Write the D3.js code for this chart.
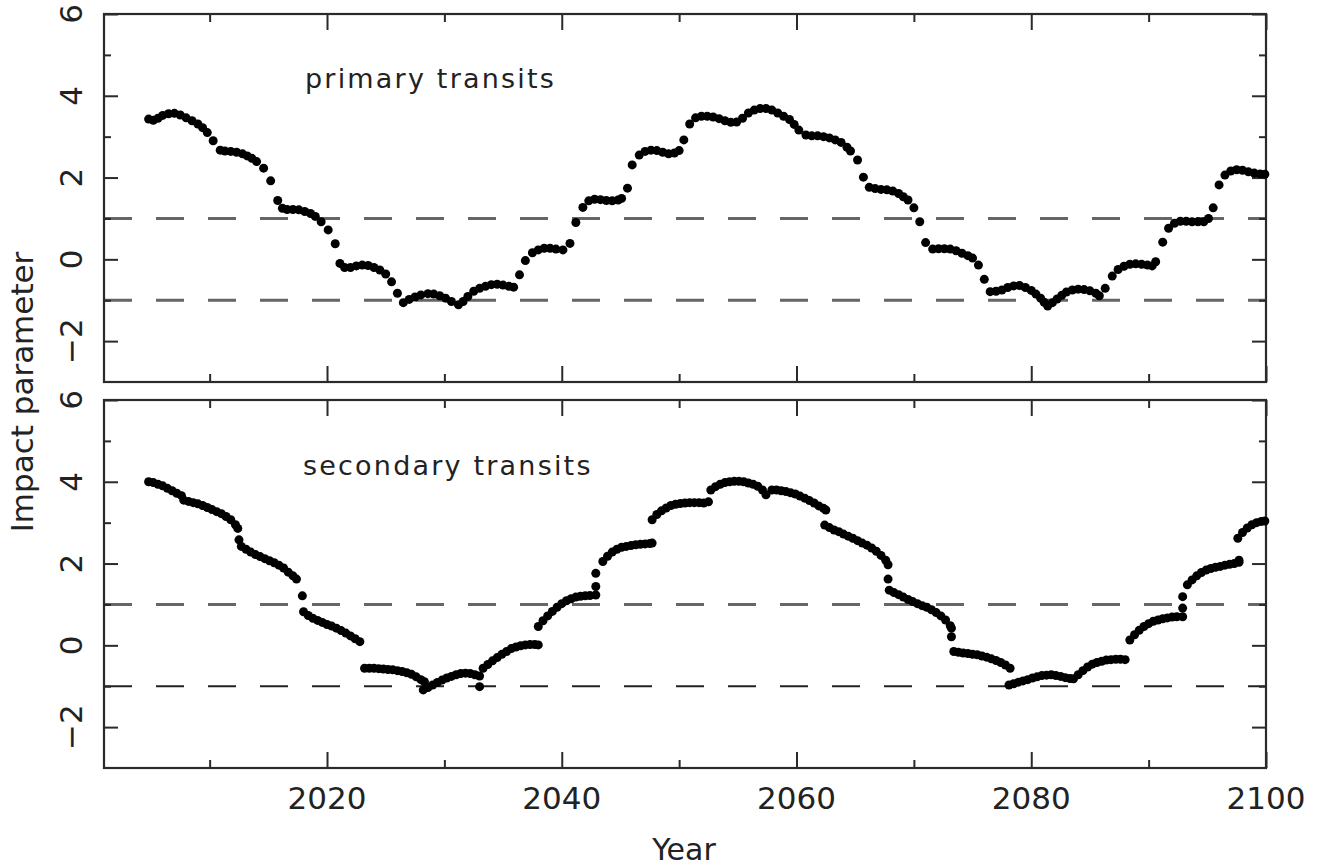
<!DOCTYPE html>
<html>
<head>
<meta charset="utf-8">
<script src="https://cdn.jsdelivr.net/npm/d3@7"></script>
<style>
  html, body { margin: 0; padding: 0; background: #fff; }
  svg { display: block; }
  text { font-family: "DejaVu Sans", sans-serif; fill: #222; }
</style>
</head>
<body>
<svg id="chart" width="1320" height="867"></svg>
<script>
// ---------------- data ----------------
const xMajorTicks = [2020, 2040, 2060, 2080, 2100];
const xMinorTicks = [2010, 2030, 2050, 2070, 2090];
const yMajorTicks = [-2, 0, 2, 4, 6];
const yMinorTicks = [-1, 1, 3, 5];
const yTickLabels = [-2, 0, 2, 4, 6];
const limitLines = [1, -1];
const panelLabels = ["primary transits", "secondary transits"];
const xLabel = "Year";
const yLabel = "Impact parameter";

// primary transits: [year, impact parameter]
const primary = [
  [2004.8,3.43],[2005.2,3.40],[2005.6,3.45],[2006.0,3.52],[2006.5,3.56],[2007.0,3.57],[2007.5,3.53],
  [2008.0,3.46],[2008.5,3.39],[2009.0,3.31],[2009.4,3.22],[2009.8,3.10],[2010.3,2.90],
  [2010.9,2.67],[2011.3,2.65],[2011.8,2.64],[2012.3,2.62],[2012.8,2.58],[2013.2,2.53],[2013.6,2.47],
  [2014.0,2.39],[2014.6,2.23],[2015.2,1.92],[2015.8,1.44],
  [2016.2,1.25],[2016.6,1.22],[2017.1,1.22],[2017.6,1.21],[2018.1,1.17],[2018.6,1.12],[2019.0,1.05],
  [2019.5,0.92],[2020.1,0.72],[2020.7,0.38],
  [2021.1,-0.10],[2021.5,-0.20],[2022.0,-0.20],[2022.5,-0.16],[2023.0,-0.14],[2023.5,-0.15],[2024.0,-0.20],
  [2024.5,-0.26],[2025.0,-0.36],[2025.5,-0.55],[2026.0,-0.83],
  [2026.5,-1.06],[2027.0,-0.98],[2027.5,-0.92],[2028.0,-0.87],[2028.6,-0.84],[2029.1,-0.85],[2029.6,-0.89],
  [2030.1,-0.95],[2030.6,-1.03],[2031.2,-1.11],[2031.6,-1.03],[2032.0,-0.91],[2032.5,-0.78],[2033.0,-0.71],
  [2033.5,-0.66],[2034.0,-0.62],[2034.5,-0.61],[2035.0,-0.63],[2035.5,-0.66],[2035.9,-0.68],
  [2036.4,-0.38],[2036.9,-0.03],
  [2037.5,0.16],[2038.0,0.23],[2038.5,0.27],[2039.0,0.27],[2039.5,0.25],[2040.1,0.23],[2040.7,0.39],[2041.2,0.90],
  [2041.8,1.27],[2042.3,1.43],[2042.8,1.47],[2043.3,1.46],[2043.8,1.44],[2044.3,1.43],[2044.8,1.45],
  [2045.1,1.49],[2045.6,1.74],[2046.0,2.31],
  [2046.6,2.55],[2047.1,2.64],[2047.6,2.67],[2048.1,2.66],[2048.6,2.62],[2049.1,2.58],[2049.6,2.60],
  [2050.0,2.66],[2050.4,2.92],[2050.9,3.31],
  [2051.4,3.46],[2051.9,3.50],[2052.4,3.50],[2052.9,3.48],[2053.4,3.44],[2053.9,3.39],[2054.4,3.35],
  [2054.9,3.36],[2055.4,3.45],[2055.9,3.58],[2056.4,3.65],[2056.9,3.69],[2057.4,3.69],[2057.9,3.65],
  [2058.4,3.58],[2058.9,3.50],[2059.4,3.42],[2059.8,3.30],[2060.2,3.16],[2060.8,3.04],
  [2061.3,3.02],[2061.8,3.02],[2062.3,3.00],[2062.8,2.97],[2063.3,2.92],[2063.8,2.86],[2064.3,2.74],
  [2064.6,2.65],[2065.2,2.43],[2065.7,2.01],
  [2066.2,1.76],[2066.7,1.73],[2067.2,1.71],[2067.7,1.70],[2068.2,1.67],[2068.7,1.61],[2069.1,1.53],
  [2069.5,1.45],[2070.0,1.26],[2070.5,0.92],[2071.0,0.41],
  [2071.6,0.25],[2072.1,0.26],[2072.6,0.26],[2073.1,0.25],[2073.6,0.21],[2074.1,0.15],[2074.6,0.09],
  [2075.0,0.03],[2075.5,-0.14],[2076.0,-0.49],
  [2076.5,-0.79],[2077.0,-0.78],[2077.5,-0.75],[2078.0,-0.69],[2078.5,-0.65],[2079.0,-0.64],[2079.5,-0.69],
  [2080.0,-0.76],[2080.4,-0.85],[2080.8,-0.95],[2081.1,-1.05],[2081.4,-1.14],[2081.8,-1.06],[2082.2,-0.97],
  [2082.6,-0.88],[2083.0,-0.80],[2083.5,-0.75],[2084.0,-0.73],[2084.5,-0.74],[2085.0,-0.77],[2085.5,-0.83],
  [2085.8,-0.89],[2086.3,-0.71],[2086.9,-0.41],
  [2087.4,-0.25],[2087.9,-0.17],[2088.4,-0.12],[2088.9,-0.11],[2089.4,-0.12],[2089.9,-0.14],[2090.3,-0.16],
  [2090.6,-0.06],[2091.2,0.42],[2091.7,0.76],
  [2092.2,0.88],[2092.7,0.93],[2093.2,0.93],[2093.7,0.92],[2094.2,0.92],[2094.7,0.92],[2095.1,1.00],
  [2095.5,1.26],[2096.0,1.82],
  [2096.5,2.06],[2097.0,2.16],[2097.5,2.19],[2098.0,2.18],[2098.5,2.14],[2099.0,2.11],[2099.5,2.09],[2099.9,2.08]
];

// secondary transits: [year, impact parameter]
const secondary = [
  [2004.8,4.00],[2005.2,3.98],[2005.6,3.94],[2006.0,3.90],[2006.4,3.84],[2006.8,3.78],[2007.2,3.72],[2007.6,3.66],
  [2007.8,3.55],[2008.2,3.52],[2008.6,3.49],[2009.0,3.46],[2009.4,3.42],[2009.8,3.37],[2010.2,3.32],[2010.6,3.27],
  [2011.0,3.22],[2011.4,3.15],[2011.8,3.07],[2012.2,2.95],[2012.4,2.86],
  [2012.5,2.58],[2012.7,2.42],[2013.1,2.35],[2013.5,2.28],[2013.9,2.22],[2014.3,2.17],[2014.7,2.12],[2015.1,2.07],
  [2015.5,2.02],[2015.9,1.96],[2016.3,1.89],[2016.7,1.79],[2017.1,1.70],[2017.4,1.62],[2017.9,1.21],
  [2018.0,0.82],[2018.4,0.73],[2018.8,0.66],[2019.2,0.61],[2019.6,0.56],[2020.0,0.51],[2020.4,0.47],[2020.8,0.42],
  [2021.2,0.36],[2021.6,0.30],[2022.0,0.23],[2022.4,0.16],[2022.8,0.09],
  [2023.2,-0.56],[2023.6,-0.56],[2024.0,-0.56],[2024.4,-0.57],[2024.8,-0.58],[2025.2,-0.59],[2025.6,-0.60],
  [2026.0,-0.62],[2026.4,-0.64],[2026.8,-0.67],[2027.2,-0.71],[2027.6,-0.77],[2028.0,-0.84],[2028.3,-0.89],
  [2028.2,-1.09],[2028.6,-1.03],[2029.0,-0.97],[2029.4,-0.91],[2029.8,-0.85],[2030.2,-0.80],[2030.6,-0.76],
  [2031.0,-0.72],[2031.4,-0.69],[2031.8,-0.68],[2032.2,-0.69],[2032.6,-0.72],[2033.0,-0.75],[2033.0,-1.01],
  [2033.3,-0.56],[2033.7,-0.47],[2034.1,-0.38],[2034.5,-0.30],[2034.9,-0.22],[2035.3,-0.15],[2035.7,-0.08],
  [2036.1,-0.04],[2036.5,-0.01],[2036.9,0.01],[2037.3,0.02],[2037.7,0.02],[2038.0,0.01],
  [2038.0,0.46],[2038.4,0.60],[2038.8,0.72],[2039.2,0.83],[2039.6,0.93],[2040.0,1.02],[2040.4,1.09],[2040.8,1.14],
  [2041.2,1.18],[2041.6,1.20],[2042.0,1.21],[2042.4,1.22],[2042.9,1.23],[2042.9,1.44],[2042.9,1.76],
  [2043.5,2.05],[2043.9,2.18],[2044.3,2.28],[2044.7,2.35],[2045.1,2.40],[2045.5,2.42],[2045.9,2.44],[2046.3,2.46],
  [2046.7,2.47],[2047.1,2.48],[2047.5,2.49],[2047.7,2.50],
  [2047.7,3.07],[2048.1,3.20],[2048.5,3.29],[2048.9,3.36],[2049.3,3.42],[2049.7,3.45],[2050.1,3.47],[2050.5,3.48],
  [2050.9,3.49],[2051.3,3.49],[2051.7,3.49],[2052.1,3.48],[2052.5,3.51],
  [2052.7,3.80],[2053.1,3.88],[2053.5,3.94],[2053.9,3.98],[2054.3,4.00],[2054.7,4.01],[2055.1,4.01],[2055.5,4.00],
  [2055.9,3.97],[2056.3,3.94],[2056.7,3.89],[2057.1,3.80],[2057.4,3.68],[2057.9,3.80],[2058.3,3.80],[2058.7,3.78],
  [2059.1,3.76],[2059.5,3.73],[2059.9,3.70],[2060.3,3.65],[2060.7,3.60],[2061.1,3.54],[2061.5,3.48],[2061.9,3.41],
  [2062.3,3.35],[2062.5,3.31],
  [2062.4,2.94],[2062.8,2.88],[2063.2,2.82],[2063.6,2.78],[2064.0,2.72],[2064.4,2.67],[2064.8,2.62],[2065.2,2.56],
  [2065.6,2.50],[2066.0,2.45],[2066.4,2.38],[2066.8,2.30],[2067.2,2.20],[2067.6,2.08],[2067.8,1.97],[2067.8,1.62],
  [2067.9,1.35],[2068.3,1.29],[2068.7,1.24],[2069.1,1.18],[2069.5,1.12],[2069.9,1.07],[2070.3,1.02],[2070.7,0.97],
  [2071.1,0.93],[2071.5,0.87],[2071.9,0.80],[2072.3,0.72],[2072.7,0.62],[2073.1,0.48],[2073.2,0.42],[2073.2,0.21],
  [2073.4,-0.15],[2073.8,-0.17],[2074.2,-0.19],[2074.6,-0.20],[2075.0,-0.22],[2075.4,-0.23],[2075.8,-0.26],
  [2076.2,-0.29],[2076.6,-0.33],[2077.0,-0.37],[2077.4,-0.42],[2077.8,-0.48],[2078.2,-0.56],
  [2078.1,-0.97],[2078.5,-0.94],[2078.9,-0.90],[2079.3,-0.87],[2079.7,-0.84],[2080.1,-0.80],[2080.5,-0.77],
  [2080.9,-0.74],[2081.3,-0.73],[2081.7,-0.72],[2082.1,-0.74],[2082.5,-0.76],[2082.9,-0.79],[2083.3,-0.81],[2083.6,-0.82],
  [2084.0,-0.72],[2084.4,-0.62],[2084.8,-0.53],[2085.2,-0.46],[2085.6,-0.42],[2086.0,-0.39],[2086.4,-0.36],
  [2086.8,-0.35],[2087.2,-0.34],[2087.6,-0.34],[2088.0,-0.35],
  [2088.4,0.13],[2088.8,0.26],[2089.2,0.37],[2089.6,0.46],[2090.0,0.53],[2090.4,0.59],[2090.8,0.62],[2091.2,0.65],
  [2091.6,0.67],[2092.0,0.69],[2092.4,0.70],[2092.9,0.70],[2092.9,0.91],[2092.9,1.19],
  [2093.3,1.48],[2093.7,1.60],[2094.1,1.70],[2094.5,1.78],[2094.9,1.84],[2095.3,1.88],[2095.7,1.91],[2096.1,1.93],
  [2096.5,1.96],[2096.9,1.98],[2097.3,2.00],[2097.7,2.03],[2097.7,2.08],
  [2097.6,2.62],[2098.0,2.76],[2098.4,2.87],[2098.8,2.95],[2099.2,3.00],[2099.6,3.03],[2099.9,3.04]
];

// ---------------- drawing ----------------
const svg = d3.select("#chart");
svg.append("rect").attr("width", 1320).attr("height", 867).attr("fill", "#fff");

const left = 104, right = 1266;
const panels = [
  { top: 14, bottom: 382, data: primary, label: panelLabels[0], labelX: 305, labelY: 88, showX: false },
  { top: 400, bottom: 768, data: secondary, label: panelLabels[1], labelX: 303, labelY: 475, showX: true }
];

const x = d3.scaleLinear().domain([2001, 2100]).range([left, right]);
const frameColor = "#2a2a2a";

panels.forEach((p, i) => {
  const y = d3.scaleLinear().domain([-3, 6]).range([p.bottom, p.top]);
  const g = svg.append("g");

  // dashed limit lines
  limitLines.forEach(v => {
    const faint = (i === 1 && v === -1);
    g.append("line")
      .attr("x1", left).attr("x2", right)
      .attr("y1", y(v)).attr("y2", y(v))
      .attr("stroke", faint ? "#222" : "#666")
      .attr("stroke-width", faint ? 2 : 3)
      .attr("stroke-dasharray", "28,24");
  });

  // ticks via d3 axes (inward)
  const addAxis = (axis, tx, ty) => {
    const a = g.append("g").attr("transform", `translate(${tx},${ty})`).call(axis);
    a.select(".domain").remove();
    a.selectAll("line").attr("stroke", frameColor).attr("stroke-width", 2);
    a.selectAll("text").remove();
  };
  addAxis(d3.axisBottom(x).tickValues(xMajorTicks).tickSize(-16), 0, p.bottom);
  addAxis(d3.axisBottom(x).tickValues(xMinorTicks).tickSize(-8), 0, p.bottom);
  addAxis(d3.axisTop(x).tickValues(xMajorTicks).tickSize(-16), 0, p.top);
  addAxis(d3.axisTop(x).tickValues(xMinorTicks).tickSize(-8), 0, p.top);
  addAxis(d3.axisLeft(y).tickValues(yMajorTicks).tickSize(-14), left, 0);
  addAxis(d3.axisLeft(y).tickValues(yMinorTicks).tickSize(-7), left, 0);
  addAxis(d3.axisRight(y).tickValues(yMajorTicks).tickSize(-14), right, 0);
  addAxis(d3.axisRight(y).tickValues(yMinorTicks).tickSize(-7), right, 0);

  // frame
  g.append("rect")
    .attr("x", left).attr("y", p.top)
    .attr("width", right - left).attr("height", p.bottom - p.top)
    .attr("fill", "none").attr("stroke", frameColor).attr("stroke-width", 2.2);

  // y tick labels (rotated)
  yTickLabels.forEach(v => {
    g.append("text")
      .attr("transform", `translate(82,${y(v)}) rotate(-90)`)
      .attr("text-anchor", "middle")
      .style("font-size", "31px")
      .text(v < 0 ? "\u2212" + Math.abs(v) : String(v));
  });

  // points
  g.append("g").selectAll("circle").data(p.data).join("circle")
    .attr("cx", d => x(d[0]))
    .attr("cy", d => y(d[1]))
    .attr("r", 4.5)
    .attr("fill", "#000");

  // panel label
  g.append("text")
    .attr("x", p.labelX).attr("y", p.labelY)
    .style("font-size", "27px")
    .style("letter-spacing", "2.2px")
    .text(p.label);

  if (p.showX) {
    xMajorTicks.forEach(v => {
      g.append("text")
        .attr("x", x(v)).attr("y", 809)
        .attr("text-anchor", "middle")
        .style("font-size", "31px")
        .text(v);
    });
  }
});

svg.append("text")
  .attr("x", 684).attr("y", 860)
  .attr("text-anchor", "middle")
  .style("font-size", "30px")
  .text(xLabel);

svg.append("text")
  .attr("transform", "translate(33,392) rotate(-90)")
  .attr("text-anchor", "middle")
  .style("font-size", "31px")
  .text(yLabel);
</script>
</body>
</html>
